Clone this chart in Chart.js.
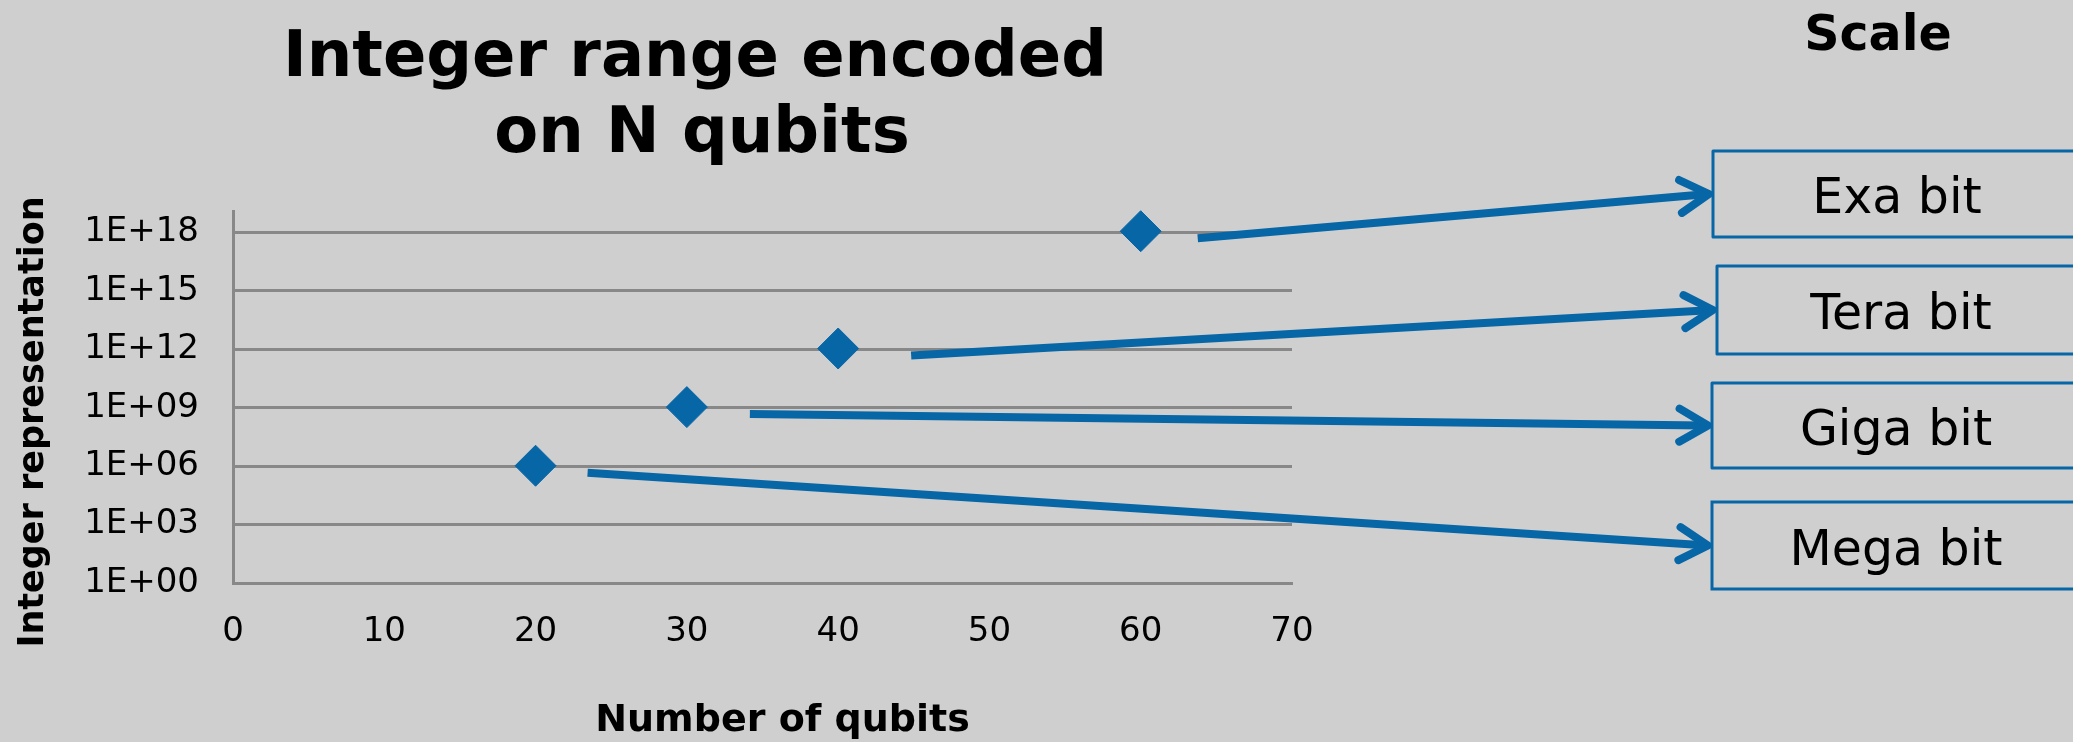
<!DOCTYPE html>
<html>
<head>
<meta charset="utf-8">
<title>Integer range encoded on N qubits</title>
<script src="https://cdn.jsdelivr.net/npm/chart.js@4.4.1/dist/chart.umd.min.js"></script>
<style>
  html, body { margin: 0; padding: 0; background: #d0cfd0; overflow: hidden; }
  canvas { display: block; }
</style>
</head>
<body>
<canvas id="qubitChart" width="2073" height="742"></canvas>
<script>
// data
const qubits = [20, 30, 40, 60];
const integerRange = [1048576, 1073741824, 1099511627776, 1152921504606846976];
const scaleNames = ['Mega bit', 'Giga bit', 'Tera bit', 'Exa bit'];
const xTicks = [0, 10, 20, 30, 40, 50, 60, 70];
const yTicks = [1, 1e3, 1e6, 1e9, 1e12, 1e15, 1e18];
const yTickLabels = ['1E+00', '1E+03', '1E+06', '1E+09', '1E+12', '1E+15', '1E+18'];
const titleLines = ['Integer range encoded', 'on N qubits'];
const xTitle = 'Number of qubits';
const yTitle = 'Integer representation';
const scaleTitle = 'Scale';

const blue = '#0766a6';
const gridGray = '#888888';
const font = '"DejaVu Sans", Verdana, sans-serif';

// slide decorations: title, axis titles, scale boxes and arrows
const slideDecor = {
  id: 'slideDecor',
  afterDraw(chart, args, opts) {
    const ctx = chart.ctx;
    const area = chart.chartArea;
    const pts = chart.getDatasetMeta(0).data;
    ctx.save();
    ctx.fillStyle = '#000';
    ctx.textAlign = 'center';
    ctx.textBaseline = 'alphabetic';

    ctx.font = 'bold 64px ' + font;
    ctx.fillText(titleLines[0], 695, 76);
    ctx.fillText(titleLines[1], 702, 152);

    ctx.font = 'bold 38px ' + font;
    ctx.fillText(xTitle, (area.left + area.right) / 2 + 20, 731);

    ctx.save();
    ctx.translate(43, (area.top + area.bottom) / 2 + 25);
    ctx.rotate(-Math.PI / 2);
    ctx.font = 'bold 35px ' + font;
    ctx.fillText(yTitle, 0, 0);
    ctx.restore();

    ctx.font = 'bold 49px ' + font;
    ctx.fillText(scaleTitle, 1878, 50);

    opts.boxes.forEach((b, i) => {
      const mid = (b.top + b.bottom) / 2;
      ctx.strokeStyle = blue;
      ctx.lineWidth = 3;
      ctx.strokeRect(b.left, b.top, opts.boxWidth, b.bottom - b.top);
      ctx.font = '49px ' + font;
      ctx.fillText(scaleNames[i], b.left + opts.boxWidth / 2, mid + 19);

      // arrow from the point to the box
      const p = pts[i];
      const x0 = p.x + opts.arrowGap[i], y0 = p.y + opts.arrowDrop;
      const x1 = b.left - 4, y1 = mid;
      const ang = Math.atan2(y1 - y0, x1 - x0);
      ctx.lineWidth = 8;
      ctx.lineCap = 'butt';
      ctx.beginPath();
      ctx.moveTo(x0, y0);
      ctx.lineTo(x1 - 4 * Math.cos(ang), y1 - 4 * Math.sin(ang));
      ctx.stroke();
      const L = 33, th = Math.PI / 6;
      ctx.lineCap = 'round';
      ctx.lineJoin = 'round';
      ctx.beginPath();
      ctx.moveTo(x1 - L * Math.cos(ang - th), y1 - L * Math.sin(ang - th));
      ctx.lineTo(x1, y1);
      ctx.lineTo(x1 - L * Math.cos(ang + th), y1 - L * Math.sin(ang + th));
      ctx.stroke();
    });
    ctx.restore();
  }
};

new Chart(document.getElementById('qubitChart'), {
  type: 'scatter',
  data: {
    datasets: [{
      data: qubits.map((q, i) => ({ x: q, y: integerRange[i] })),
      pointStyle: 'rectRot',
      pointRadius: 20.5,
      pointHoverRadius: 20.5,
      backgroundColor: blue,
      borderColor: blue,
      borderWidth: 1,
      clip: false
    }]
  },
  options: {
    responsive: false,
    animation: false,
    events: [],
    layout: { padding: { left: 0, top: 211, right: 781, bottom: 0 } },
    plugins: {
      legend: { display: false },
      tooltip: { enabled: false },
      slideDecor: {
        boxWidth: 368,
        arrowGap: [52, 63, 73, 57],
        arrowDrop: 7,
        boxes: [
          { left: 1712, top: 502, bottom: 589 },
          { left: 1712, top: 383, bottom: 468 },
          { left: 1717, top: 266, bottom: 354 },
          { left: 1713, top: 151, bottom: 237 }
        ]
      }
    },
    scales: {
      x: {
        type: 'linear',
        min: 0,
        max: 70,
        afterBuildTicks: s => { s.ticks = xTicks.map(v => ({ value: v })); },
        afterFit: s => { s.height = 159; },
        grid: { display: false, drawTicks: false },
        border: { color: gridGray, width: 3 },
        ticks: {
          padding: 29,
          color: '#000',
          autoSkip: false,
          maxRotation: 0,
          font: { family: font, size: 34 },
          callback: (v, i) => String(xTicks[i])
        }
      },
      y: {
        type: 'logarithmic',
        min: 1,
        max: 1.26e19,
        afterBuildTicks: s => { s.ticks = yTicks.map(v => ({ value: v })); },
        afterFit: s => { s.width = 233; },
        grid: { color: gridGray, lineWidth: 3, drawTicks: false },
        border: { color: gridGray, width: 3 },
        ticks: {
          padding: 34,
          color: '#000',
          autoSkip: false,
          font: { family: font, size: 34 },
          callback: (v, i) => yTickLabels[i]
        }
      }
    }
  },
  plugins: [slideDecor]
});
</script>
</body>
</html>
